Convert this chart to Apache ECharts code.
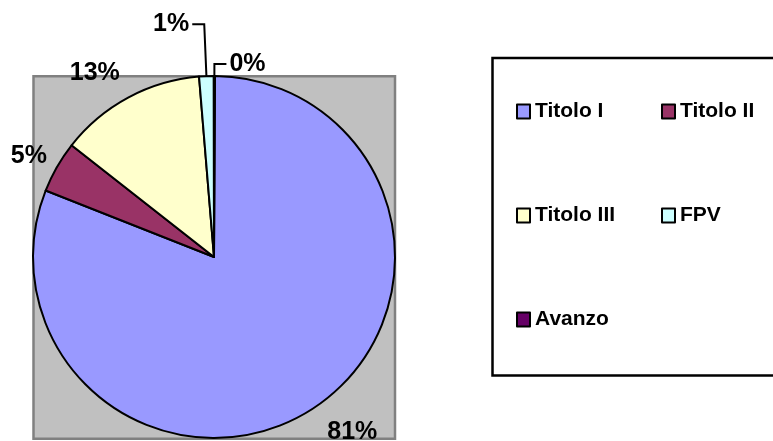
<!DOCTYPE html>
<html>
<head>
<meta charset="utf-8">
<style>html,body{margin:0;padding:0;background:#fff;}#c{width:773px;height:441px;}</style>
<script src="https://cdn.jsdelivr.net/npm/echarts@6/dist/echarts.min.js"></script>
</head>
<body>
<div id="c"></div>
<script>
const categories = ['Titolo I', 'Titolo II', 'Titolo III', 'FPV', 'Avanzo'];
const values = [80.9, 4.6, 13.1, 1.3, 0.1];
const colors = ['#9999FF', '#993366', '#FFFFCC', '#CCFFFF', '#660066'];
const legendColumns = [['Titolo I', 'Titolo III', 'Avanzo'], ['Titolo II', 'FPV']];

const FONT = '"Liberation Sans", Arial, sans-serif';
// label placement settings per slice (line length, second segment, distance, show line)
const labelCfg = [
  { len: 30, len2: 0, dist: -5, line: false },
  { len: 22, len2: 0, dist: -9, line: false },
  { len: 28, len2: 0, dist: -5, line: false },
  { len: 52, len2: 12, dist: 3, line: true },
  { len: 12, len2: 12, dist: 3, line: true }
];

const chart = echarts.init(document.getElementById('c'), null, { renderer: 'canvas' });

const legendLefts = [516, 661];
const legends = legendColumns.map((col, i) => ({
  data: col,
  orient: 'vertical',
  left: legendLefts[i],
  top: 101,
  padding: 0,
  itemGap: 83,
  itemWidth: 13,
  itemHeight: 14,
  icon: 'rect',
  selectedMode: false,
  itemStyle: { borderColor: '#000', borderWidth: 2 },
  textStyle: { fontSize: 21, fontWeight: 'bold', color: '#000', fontFamily: FONT }
}));

const option = {
  animation: false,
  backgroundColor: '#fff',
  graphic: [
    {
      type: 'rect', z: -10, silent: true,
      shape: { x: 33.5, y: 76.2, width: 361.5, height: 362.5 },
      style: { fill: '#C0C0C0', stroke: '#808080', lineWidth: 2.5 }
    },
    {
      type: 'rect', z: -10, silent: true,
      shape: { x: 492.5, y: 58, width: 300, height: 317.5 },
      style: { fill: '#fff', stroke: '#000', lineWidth: 2.5 }
    }
  ],
  legend: legends,
  series: [{
    type: 'pie',
    center: [214, 257],
    radius: 181,
    startAngle: 89.7,
    clockwise: true,
    avoidLabelOverlap: false,
    emphasis: { disabled: true },
    itemStyle: { borderColor: '#000', borderWidth: 2 },
    label: {
      show: true,
      position: 'outside',
      fontSize: 25,
      fontWeight: 'bold',
      color: '#000',
      fontFamily: FONT,
      formatter: p => Math.round(p.percent) + '%'
    },
    labelLine: { lineStyle: { color: '#000', width: 2 } },
    data: categories.map((name, i) => ({
      name: name,
      value: values[i],
      itemStyle: { color: colors[i] },
      label: { distanceToLabelLine: labelCfg[i].dist },
      labelLine: {
        show: labelCfg[i].line,
        length: labelCfg[i].len,
        length2: labelCfg[i].len2,
        smooth: false
      }
    }))
  }]
};
chart.setOption(option);
</script>
</body>
</html>
